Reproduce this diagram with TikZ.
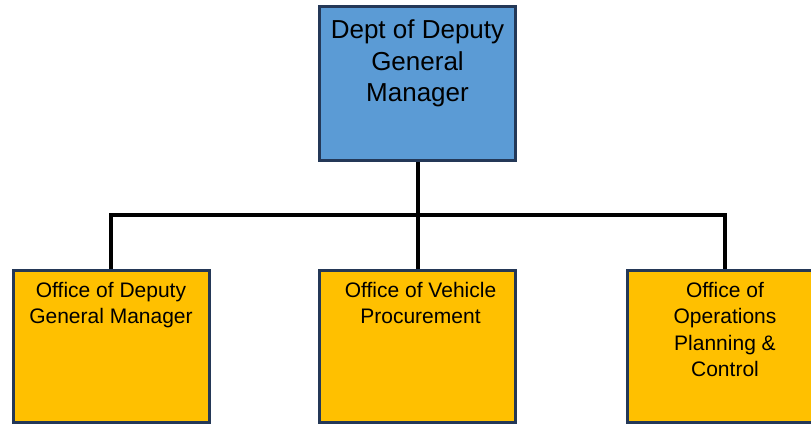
\documentclass[tikz,border=0pt]{standalone}
\usepackage{fontspec}
\setmainfont{Liberation Sans}
\usetikzlibrary{positioning}

\definecolor{headblue}{RGB}{91,155,213}
\definecolor{unitgold}{RGB}{255,192,0}
\definecolor{boxline}{RGB}{36,56,87}

\tikzset{
  headbox/.style={rectangle, draw=boxline, fill=headblue, line width=3pt, minimum width=196pt, minimum height=154pt, inner sep=0pt},
  unitbox/.style={rectangle, draw=boxline, fill=unitgold, line width=3pt, minimum width=196pt, minimum height=152pt, inner sep=0pt},
  headtext/.style={font=\fontsize{26}{31.5}\selectfont, align=center, inner sep=0pt},
  unittext/.style={font=\fontsize{21}{26.5}\selectfont, align=center, inner sep=0pt},
  link/.style={line width=4pt, draw=black}
}

\begin{document}
\begin{tikzpicture}[x=1pt, y=-1pt]
  \useasboundingbox (0,0) rectangle (811,425);

  \node[headbox] (dept) at (417.5,83.5) {};
  \node[unitbox] (ofdgm) at (111,346.5) {};
  \node[unitbox] (ofvp) at (417.5,346.5) {};
  \node[unitbox] (ofopc) at (725,346.5) {};

  \node[headtext, below=14.5pt of dept.north] (dept-text) {Dept of Deputy\\General\\Manager};
  \node[unittext, below=13pt of ofdgm.north] (ofdgm-text) {Office of Deputy\\General Manager};
  \node[unittext, below=13pt of ofvp.north, xshift=3pt] (ofvp-text) {Office of Vehicle\\Procurement};
  \node[unittext, below=13pt of ofopc.north] (ofopc-text) {Office of\\Operations\\Planning \&\\Control};

  \coordinate (bus) at (417.5,215);

  \draw[link] (dept.south) -- (bus);
  \draw[link] (ofdgm.north) -- (ofdgm.north |- bus) -- (ofopc.north |- bus) -- (ofopc.north);
  \draw[link] (bus) -- (ofvp.north);

\end{tikzpicture}
\end{document}
